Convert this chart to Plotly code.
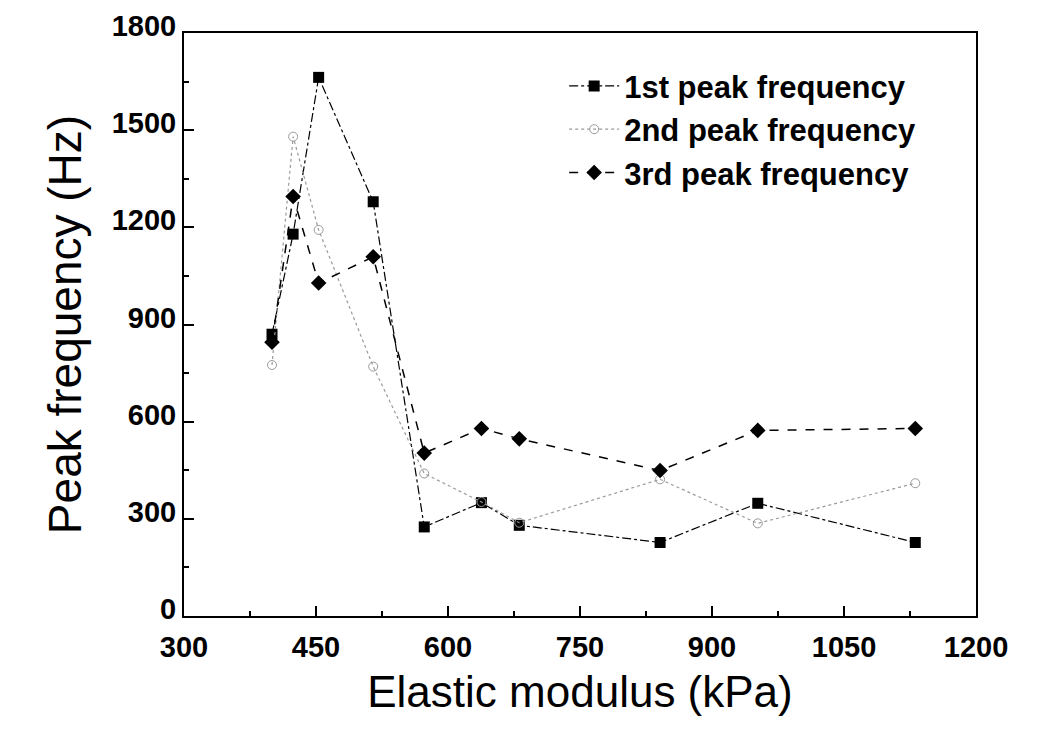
import plotly.graph_objects as go

# Data
modulus = [400, 424, 453, 515, 573, 638, 681, 841, 952, 1131]
peak1 = [870, 1179, 1663, 1279, 275, 350, 280, 227, 348, 227]
peak2 = [775, 1480, 1192, 770, 440, 352, 288, 422, 286, 410]
peak3 = [845, 1295, 1028, 1109, 503, 579, 547, 449, 573, 579]

names = ["1st peak frequency", "2nd peak frequency", "3rd peak frequency"]

FONT = "Liberation Sans, Arial, Helvetica, sans-serif"

fig = go.Figure()
fig.add_trace(go.Scatter(
    x=modulus, y=peak1, name=names[0], mode="lines+markers",
    line=dict(color="black", width=1.2, dash="dashdot"),
    marker=dict(symbol="square", size=11, color="black"),
))
fig.add_trace(go.Scatter(
    x=modulus, y=peak2, name=names[1], mode="lines+markers",
    line=dict(color="#9a9a9a", width=1.2, dash="dot"),
    marker=dict(symbol="circle-open", size=9, color="#9a9a9a", line=dict(width=1)),
))
fig.add_trace(go.Scatter(
    x=modulus, y=peak3, name=names[2], mode="lines+markers",
    line=dict(color="black", width=1.5, dash="dash"),
    marker=dict(symbol="diamond", size=12, color="black"),
))

axis_common = dict(
    showgrid=False, zeroline=False, showline=True, linecolor="black", linewidth=2,
    mirror=True, ticks="inside", ticklen=10, tickwidth=2, tickcolor="black",
    tickfont=dict(family=FONT, size=29, color="black", weight="bold"),
)

fig.update_xaxes(
    range=[300, 1200], tick0=300, dtick=150,
    minor=dict(ticks="inside", ticklen=5, tickwidth=1.5, dtick=75, tickcolor="black"),
    ticklabelstandoff=4,
    title=dict(text="Elastic modulus (kPa)", font=dict(family=FONT, size=44, color="black"), standoff=14),
    **axis_common,
)
fig.update_yaxes(
    range=[0, 1800], tick0=0, dtick=300,
    minor=dict(ticks="inside", ticklen=5, tickwidth=1.5, dtick=150, tickcolor="black"),
    ticklabelshift=-7,
    title=dict(text="Peak frequency (Hz)", font=dict(family=FONT, size=46, color="black"), standoff=16),
    **axis_common,
)

fig.update_layout(
    width=1037, height=734,
    margin=dict(l=184, r=61, t=33, b=118, autoexpand=False),
    paper_bgcolor="white", plot_bgcolor="white",
    showlegend=True,
    legend=dict(
        x=0.48, y=0.955, xanchor="left", yanchor="top",
        bgcolor="rgba(0,0,0,0)", borderwidth=0,
        font=dict(family=FONT, size=31, color="black", weight="bold"),
        itemwidth=50,
    ),
)

fig.write_html("out.html")
